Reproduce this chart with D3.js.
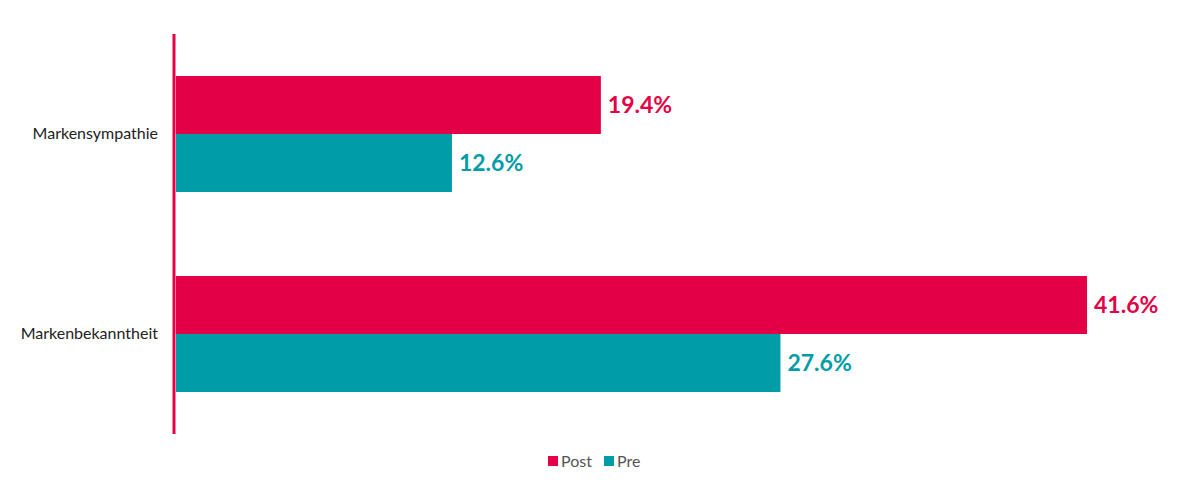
<!DOCTYPE html>
<html><head><meta charset="utf-8">
<script src="https://cdn.jsdelivr.net/npm/d3@7"></script>
<style>body{margin:0;background:#fff;}svg{display:block;font-family:Lato,"Open Sans",sans-serif;}</style>
</head><body><svg id="c" width="1200" height="500"></svg>
<script>
const categories = ["Markensympathie", "Markenbekanntheit"];
const seriesNames = ["Post", "Pre"];
const postValues = [19.4, 41.6];
const preValues = [12.6, 27.6];
const colors = {Post: "#E30046", Pre: "#009CA8"};

const svg = d3.select("#c");
const x = d3.scaleLinear().domain([0, 45]).range([176, 176 + 45 * 21.9]);
const y = d3.scaleBand().domain(categories).range([34, 434]).paddingInner(0.42).paddingOuter(0.21);
const ys = d3.scaleBand().domain(seriesNames).range([0, y.bandwidth()]);

const data = [];
categories.forEach((c, i) => {
  data.push({cat: c, s: "Post", v: postValues[i]});
  data.push({cat: c, s: "Pre", v: preValues[i]});
});

svg.selectAll("rect.bar").data(data).join("rect").attr("class", "bar")
  .attr("x", x(0)).attr("y", d => y(d.cat) + ys(d.s))
  .attr("width", d => x(d.v) - x(0)).attr("height", ys.bandwidth())
  .attr("fill", d => colors[d.s]);

svg.selectAll("text.val").data(data).join("text").attr("class", "val")
  .attr("x", d => x(d.v) + 7).attr("y", d => y(d.cat) + ys(d.s) + ys.bandwidth() / 2)
  .attr("dy", "0.35em").attr("font-size", 23).attr("font-weight", 700)
  .attr("fill", d => colors[d.s]).text(d => d.v.toFixed(1) + "%");

// axis
const ax = svg.append("g").attr("transform", `translate(${x(0) - 2},0)`)
  .call(d3.axisLeft(y).tickSize(0).tickPadding(16));
ax.select(".domain").attr("stroke", colors.Post).attr("stroke-width", 3).attr("d", "M0,34V434");
ax.selectAll("text").attr("font-size", 16).attr("fill", "#222").attr("font-family", "Lato, sans-serif");

// legend
const leg = svg.append("g").attr("transform", "translate(0,461)");
const items = [{n: "Post", x: 548}, {n: "Pre", x: 604}];
items.forEach(it => {
  leg.append("rect").attr("x", it.x).attr("y", -5).attr("width", 10).attr("height", 10).attr("fill", colors[it.n]);
  leg.append("text").attr("x", it.x + 13).attr("y", 0).attr("dy", "0.35em")
    .attr("font-size", 16).attr("fill", "#555").text(it.n);
});
</script></body></html>
